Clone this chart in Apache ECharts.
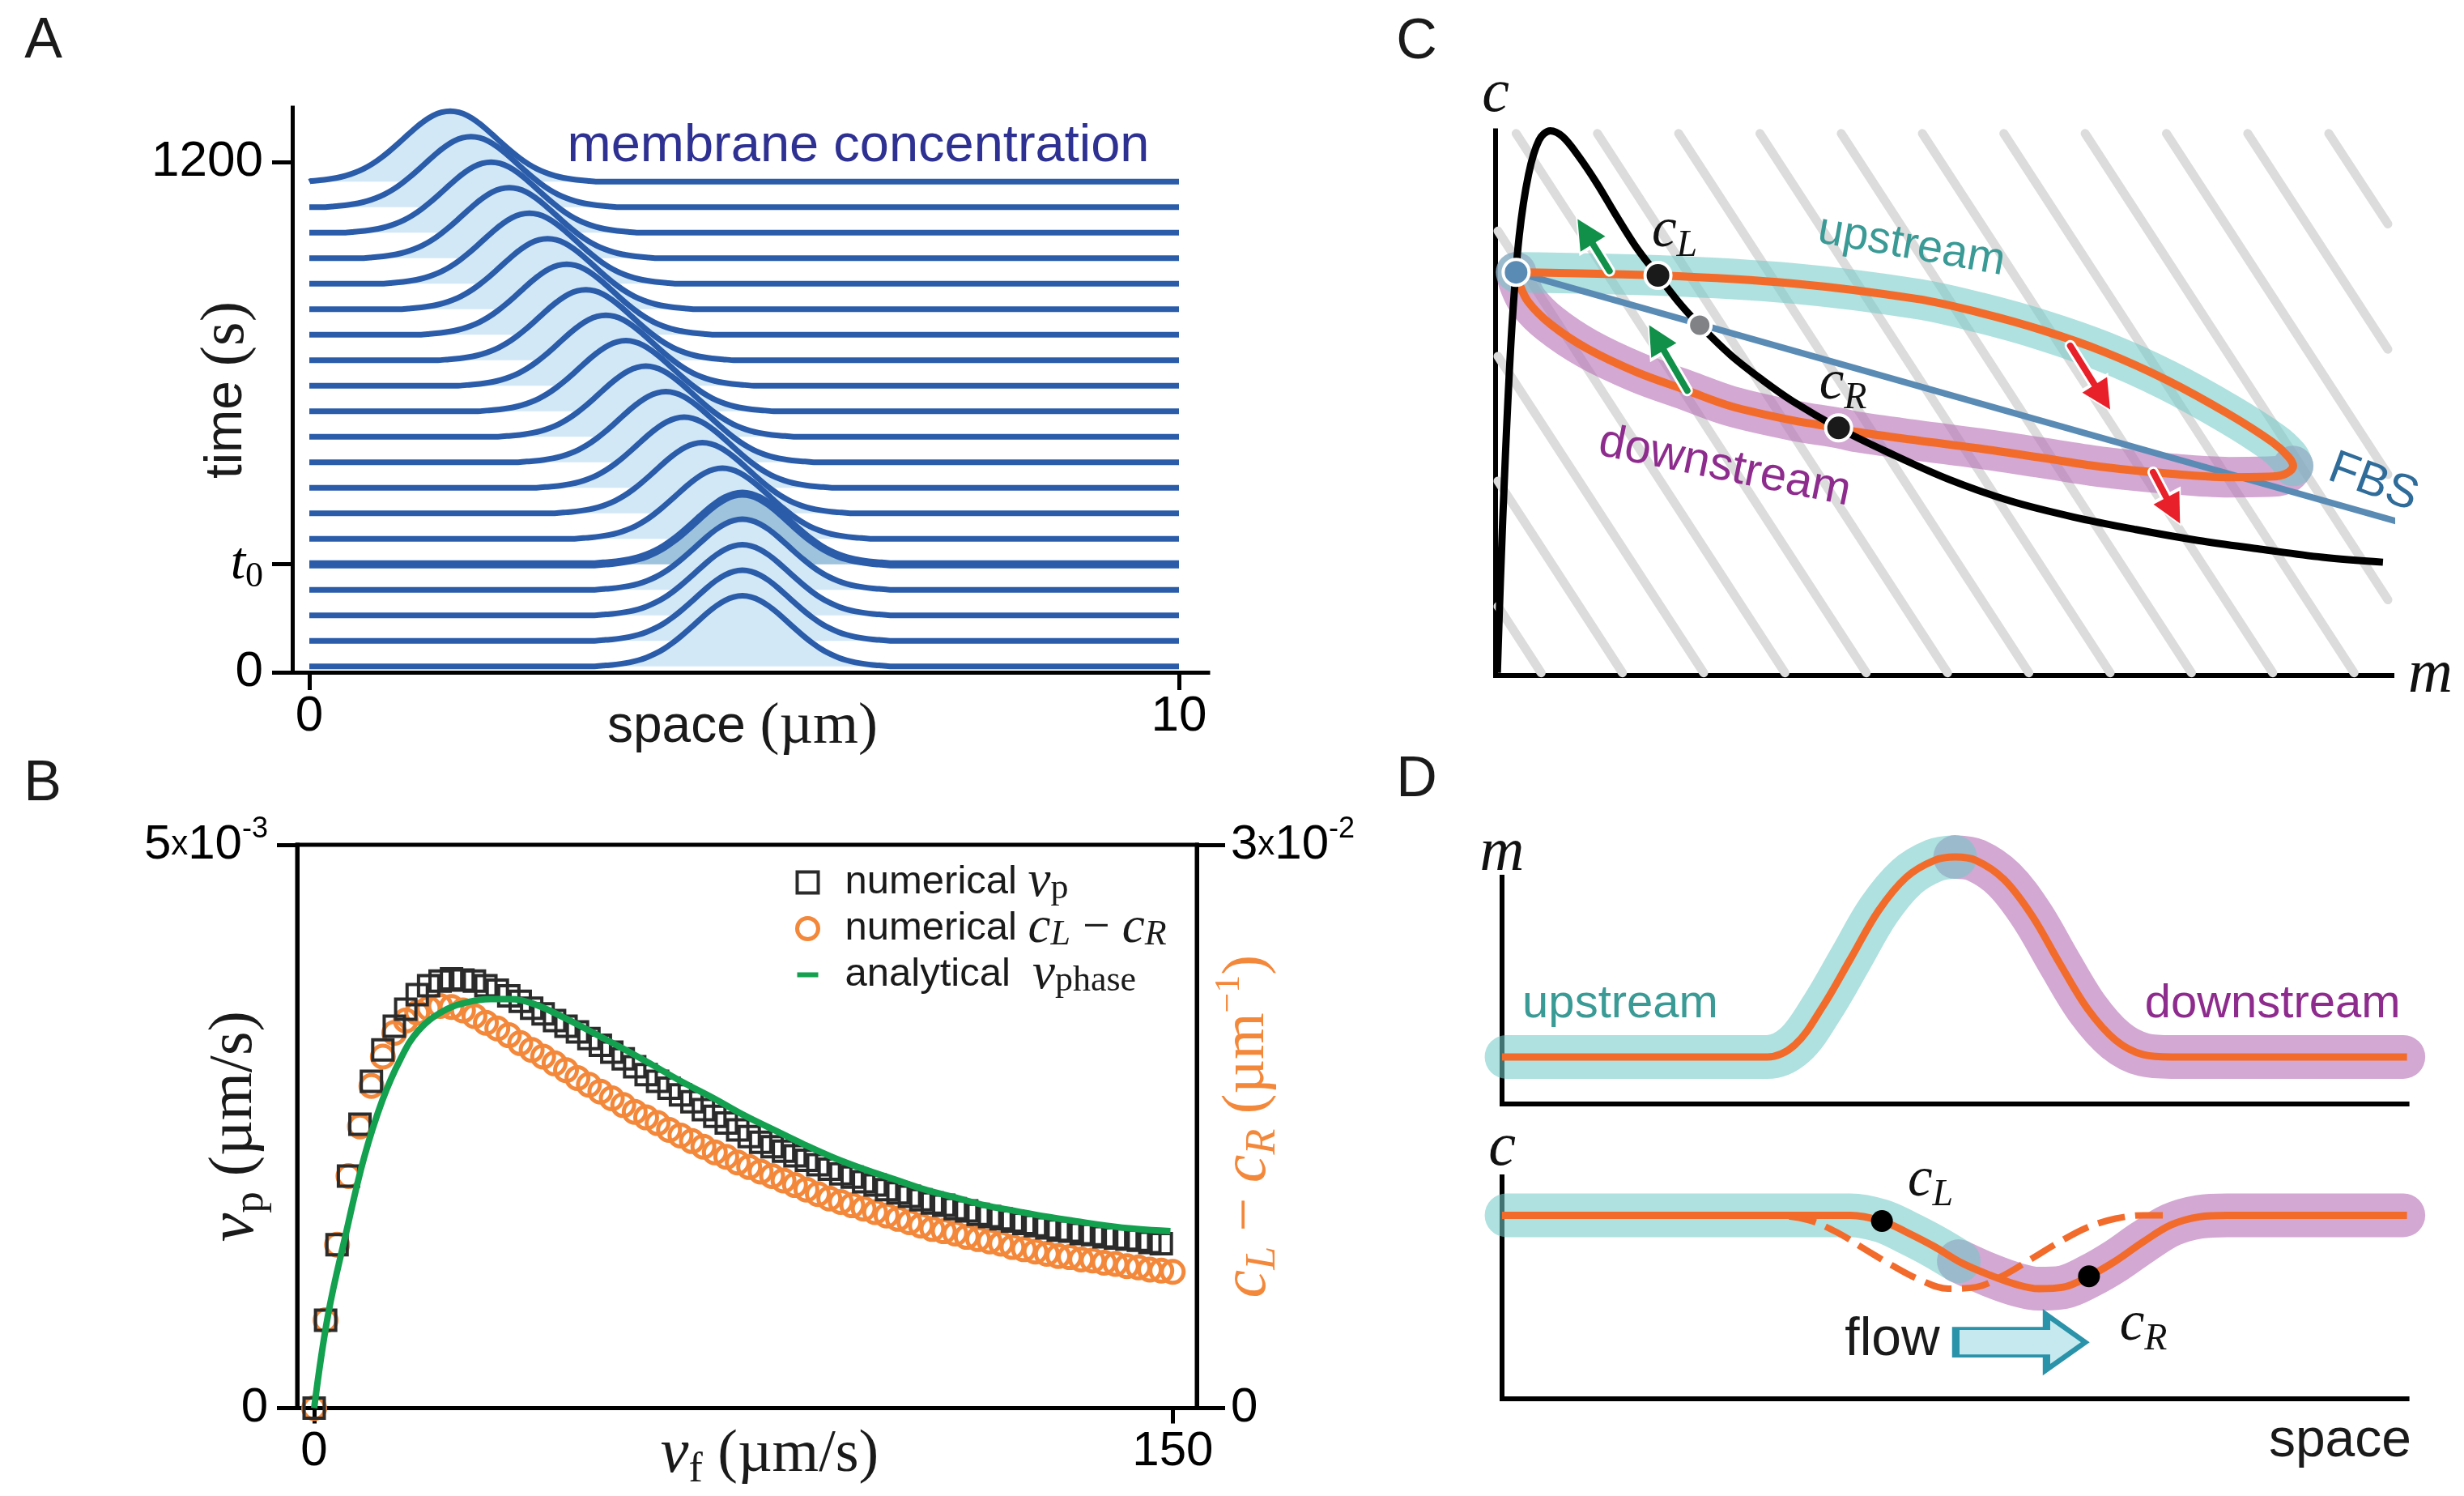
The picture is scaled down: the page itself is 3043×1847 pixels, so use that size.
<!DOCTYPE html>
<html><head><meta charset="utf-8">
<script src="https://cdn.jsdelivr.net/npm/echarts@6/dist/echarts.min.js"></script>
<style>html,body{margin:0;padding:0;background:#fff}#c{width:3043px;height:1847px}</style>
</head><body><div id="c"></div>
<script>
// ================= DATA =================
// ---- Panel A : ridgeline of membrane concentration ----
const A_X_TICKS = [0, 10];
const A_Y_TICKS = [0, 254, 1200];
const A_BASELINES = [14, 74, 134, 194, 254, 314, 374, 434, 494, 554, 614, 674, 734, 794, 854, 914, 974, 1034, 1094, 1154];
const A_PEAKS = [4.98, 4.98, 4.98, 4.98, 4.98, 4.75, 4.52, 4.31, 4.10, 3.87, 3.64, 3.41, 3.18, 2.96, 2.74, 2.53, 2.30, 2.09, 1.86, 1.62];
const A_T0_INDEX = 4;
const A_PROFILE_DX = [-1.7,-1.6,-1.5,-1.4,-1.3,-1.2,-1.1,-1.0,-0.9,-0.8,-0.7,-0.6,-0.5,-0.4,-0.3,-0.2,-0.1,0,0.1,0.2,0.3,0.4,0.5,0.6,0.7,0.8,0.9,1.0,1.1,1.2,1.3,1.4,1.5,1.6,1.7];
const A_PROFILE_H  = [0,0.01,0.02,0.035,0.055,0.085,0.126,0.18,0.249,0.334,0.432,0.539,0.651,0.76,0.857,0.934,0.983,1,0.983,0.934,0.857,0.76,0.651,0.539,0.432,0.334,0.249,0.18,0.126,0.085,0.055,0.035,0.02,0.01,0];
const A_AMPLITUDE = 166;

// ---- Panel B : phase velocity vs flow ----
const B_X_TICKS = [0, 150];
const B_LEFT_TICKS = [0, 5];      // x 1e-3 um/s
const B_RIGHT_TICKS = [0, 3];     // x 1e-2 um^-1
const B_VF_SQ = [0,2,4,6,8,10,12,14,16,18,20,22,24,26,28,30,32,34,36,38,40,42,44,46,48,50,52,54,56,58,60,62,64,66,68,70,72,74,76,78,80,82,84,86,88,90,92,94,96,98,100,102,104,106,108,110,112,114,116,118,120,122,124,126,128,130,132,134,136,138,140,142,144,146,148];
const B_VP = [0.00,0.78,1.45,2.06,2.52,2.90,3.18,3.39,3.54,3.67,3.75,3.79,3.81,3.80,3.79,3.75,3.71,3.66,3.61,3.55,3.50,3.44,3.39,3.34,3.28,3.22,3.16,3.10,3.03,2.96,2.90,2.84,2.78,2.72,2.65,2.59,2.53,2.47,2.41,2.36,2.32,2.28,2.24,2.20,2.16,2.12,2.08,2.05,2.01,1.98,1.94,1.91,1.88,1.85,1.82,1.80,1.77,1.75,1.72,1.70,1.68,1.66,1.64,1.62,1.60,1.58,1.57,1.55,1.54,1.52,1.51,1.50,1.49,1.47,1.46];
const B_VF_CI = [0,2,4,6,8,10,12,14,16,18,20,22,24,26,28,30,32,34,36,38,40,42,44,46,48,50,52,54,56,58,60,62,64,66,68,70,72,74,76,78,80,82,84,86,88,90,92,94,96,98,100,102,104,106,108,110,112,114,116,118,120,122,124,126,128,130,132,134,136,138,140,142,144,146,148,150];
const B_CDIFF = [0,0.468,0.870,1.236,1.500,1.716,1.872,1.998,2.064,2.106,2.130,2.142,2.136,2.118,2.088,2.052,2.022,1.986,1.944,1.908,1.872,1.836,1.800,1.758,1.722,1.686,1.650,1.614,1.578,1.548,1.518,1.482,1.452,1.422,1.392,1.362,1.338,1.308,1.284,1.260,1.236,1.212,1.188,1.164,1.140,1.116,1.098,1.080,1.062,1.044,1.026,1.008,0.990,0.972,0.954,0.942,0.930,0.912,0.900,0.888,0.876,0.858,0.846,0.834,0.822,0.810,0.804,0.792,0.786,0.774,0.768,0.756,0.750,0.738,0.732,0.726];
const B_VF_AN = [0,2.4,5.6,8.7,11.9,15.1,18.2,22.4,26.6,30.8,34,38.2,43.5,48.8,54,59.3,64.5,69.8,75.1,80.3,85.6,90.9,96.1,101.4,106.7,112,117.2,122.5,127.8,133,138.3,143.6,149.6];
const B_VPHASE = [0,0.82,1.56,2.22,2.73,3.10,3.35,3.52,3.60,3.63,3.63,3.59,3.47,3.33,3.19,3.04,2.89,2.75,2.60,2.47,2.34,2.22,2.12,2.03,1.94,1.87,1.80,1.75,1.70,1.66,1.62,1.59,1.57];

// ---- Panel C : phase plane (m, c) ----
const C_NULLCLINE = [[0.2,0.5],[0.55,17.7],[1.10,40.5],[1.80,63.4],[2.63,80.6],[3.68,92.0],[4.85,98.3],[6.11,100.0],[7.50,98.9],[9.23,95.4],[11.32,90.3],[13.40,84.6],[15.83,78.3],[18.27,73.1],[20.70,68.0],[22.78,64.3],[26.25,58.8],[29.73,54.3],[33.20,50.3],[38.41,45.3],[43.62,41.1],[50.57,36.0],[57.51,32.0],[64.46,29.1],[71.41,26.8],[78.36,24.8],[85.30,23.2],[92.25,21.7],[99.0,20.8]];
const C_UPPER = [[2.29,74.03],[18.12,73.46],[33.20,71.98],[47.09,69.12],[54.04,66.60],[60.99,63.40],[67.93,59.40],[74.88,54.25],[81.83,47.96],[86.69,42.82],[88.43,40.19],[88.98,38.47]];
const C_LOWER = [[88.98,38.47],[88.22,37.10],[86.69,36.53],[81.83,36.41],[74.88,37.10],[67.93,38.24],[60.99,39.96],[54.04,41.67],[47.09,43.16],[40.15,44.76],[38.27,45.45],[33.20,46.82],[26.25,49.45],[21.39,52.31],[15.83,55.63],[10.27,59.97],[6.11,64.54],[3.67,68.55],[2.63,71.98],[2.29,74.03]];
const C_FBS = [[2.29,74.03],[101.8,27.7]];
const C_HATCH = [
  [[0.27,12.7],[5.09,0.5]], [[0.27,35.7],[14.16,0.5]], [[0.27,58.6],[23.22,0.5]], [[0.27,81.6],[32.29,0.5]],
  [[2.29,99.5],[41.36,0.5]], [[11.36,99.5],[50.43,0.5]], [[20.42,99.5],[59.50,0.5]], [[29.49,99.5],[68.57,0.5]],
  [[38.56,99.5],[77.64,0.5]], [[47.61,99.5],[86.71,0.5]], [[56.70,99.5],[95.78,0.5]], [[65.77,99.5],[99.55,13.9]],
  [[74.84,99.5],[99.55,36.9]], [[83.91,99.5],[99.55,59.9]], [[92.95,99.5],[99.55,82.9]]
];
const C_ARROWS_GREEN = [[[12.71,74.26],[10.0,81.5]], [[21.39,52.31],[17.95,62.0]]];
const C_ARROWS_RED = [[[64.11,60.54],[67.7,51.1]], [[73.35,37.33],[75.6,30.3]]];
const C_FIXED = [2.29,74.03];
const C_CL = [18.12,73.46];
const C_CR = [38.27,45.45];
const C_MID = [22.78,64.3];

// ---- Panel D : spatial profiles ----
const D_M_CURVE = [[0,20.6],[29.28,20.6],[32.35,25.9],[35.43,42.8],[38.52,64.0],[41.60,85.2],[44.68,100.0],[47.76,107.4],[50.07,108.9],[52.39,107.4],[55.47,99.0],[58.55,83.1],[61.63,61.9],[64.71,41.8],[67.80,28.0],[70.88,21.6],[73.95,20.6],[100,20.6]];
const D_M_UP = [[0.5,20.6],[29.28,20.6],[32.35,25.9],[35.43,42.8],[38.52,64.0],[41.60,85.2],[44.68,100.0],[47.76,107.4],[50.07,108.9]];
const D_M_DOWN = [[50.07,108.9],[52.39,107.4],[55.47,99.0],[58.55,83.1],[61.63,61.9],[64.71,41.8],[67.80,28.0],[70.88,21.6],[73.95,20.6],[99.6,20.6]];
const D_C_SOLID = [[0,82.7],[38.52,82.7],[41.98,80.1],[44.68,75.1],[47.76,68.6],[50.84,61.1],[53.93,55.7],[57.01,51.3],[59.32,49.6],[62.02,50.3],[64.86,55.2],[67.80,62.1],[70.88,70.8],[73.95,78.4],[77.04,82.0],[80.12,82.7],[100,82.7]];
const D_C_UP = [[0.5,82.7],[38.52,82.7],[41.98,80.1],[44.68,75.1],[47.76,68.6],[50.47,62.0]];
const D_C_DOWN = [[50.47,62.0],[53.93,55.7],[57.01,51.3],[59.32,49.6],[62.02,50.3],[64.86,55.2],[67.80,62.1],[70.88,70.8],[73.95,78.4],[77.04,82.0],[80.12,82.7],[99.6,82.7]];
const D_C_DASHED = [[27.5,82.7],[30.82,82.5],[33.89,80.5],[36.98,75.1],[40.06,67.5],[43.14,60.0],[46.22,53.5],[49.30,49.6],[52.39,50.3],[55.47,55.7],[58.55,63.2],[61.63,70.8],[64.71,77.3],[67.80,81.2],[70.88,82.7],[74,82.7]];
const D_CL = [41.98,80.1];
const D_CR = [64.86,55.2];
const D_FLOW = [57.3,25.5];

// ================= STYLE =================
const SANS = '"Liberation Sans", Arial, Helvetica, sans-serif';
const SERIF = '"Liberation Serif", "Times New Roman", serif';
const BLUE_A = '#2a5caa', FILL_A = '#d3e8f7', FILL_T0 = '#9ec3dc';
const ORANGE_B = '#f3883b', GREEN_B = '#13a04f';
const ORANGE = '#f26b2b';
const CYAN = 'rgba(113,202,199,0.57)', PURPLE = 'rgba(182,110,182,0.6)';
const FBS_C = '#5a8bb5';

// rich-text styles: sans text of size `ts`, math (serif) of size `ms`
function R(ts, ms, color, lh) {
  lh = lh || Math.round(Math.max(ts, ms) * 1.22);
  const sub = Math.round(ms * 0.7), sup = Math.round(ms * 0.6);
  const c = (o) => Object.assign(o, {color: color, fill: color});
  return {
    a: c({fontFamily: SANS, fontSize: ts, lineHeight: lh}),
    r: c({fontFamily: SERIF, fontSize: ms, lineHeight: lh}),
    v: c({fontFamily: SERIF, fontStyle: 'italic', fontSize: Math.round(ms * 1.05), lineHeight: lh}),
    s: c({fontFamily: SERIF, fontSize: sub, lineHeight: sub, verticalAlign: 'bottom'}),
    si: c({fontFamily: SERIF, fontStyle: 'italic', fontSize: sub, lineHeight: sub, verticalAlign: 'bottom'}),
    e: c({fontFamily: SERIF, fontSize: sup, lineHeight: sup, verticalAlign: 'top'}),
    n: c({fontFamily: SANS, fontSize: ts, lineHeight: lh}),
    x: c({fontFamily: SANS, fontSize: Math.round(ts * 0.7), lineHeight: lh}),
    ne: c({fontFamily: SANS, fontSize: Math.round(ts * 0.6), lineHeight: Math.round(ts * 0.6), verticalAlign: 'top'})
  };
}

const noSplit = {show: false};
const axLine = (w) => ({show: true, onZero: false, lineStyle: {color: '#000', width: w, cap: 'square'}});

// ================= SERIES =================
const series = [];
// Panel A ridgelines (top first so lower lines are drawn over)
for (let k = A_BASELINES.length - 1; k >= 0; k--) {
  const b = A_BASELINES[k], p = A_PEAKS[k];
  const pts = [[0, b]];
  for (let i = 0; i < A_PROFILE_DX.length; i++) {
    const x = p + A_PROFILE_DX[i];
    if (x > 0.02) pts.push([x, b + A_AMPLITUDE * A_PROFILE_H[i]]);
  }
  pts.push([10, b]);
  const t0 = k === A_T0_INDEX;
  series.push({type: 'line', z: 2, xAxisIndex: 0, yAxisIndex: 0, data: pts, symbol: 'none', smooth: 0.2, silent: true,
    lineStyle: {color: BLUE_A, width: t0 ? 10 : 7, join: 'round', cap: 'butt'},
    areaStyle: {color: t0 ? FILL_T0 : FILL_A, opacity: 1, origin: b}});
}
// Panel B
series.push({type: 'scatter', z: 3, name: 'numerical cLcR', xAxisIndex: 1, yAxisIndex: 2, silent: true,
  data: B_VF_CI.map((x, i) => [x, B_CDIFF[i]]), symbol: 'circle', symbolSize: 27,
  itemStyle: {color: 'rgba(0,0,0,0)', borderColor: ORANGE_B, borderWidth: 5, opacity: 1}});
series.push({type: 'scatter', z: 4, name: 'numerical vp', xAxisIndex: 1, yAxisIndex: 1, silent: true,
  data: B_VF_SQ.map((x, i) => [x, B_VP[i]]), symbol: 'rect', symbolSize: 25,
  itemStyle: {color: 'rgba(0,0,0,0)', borderColor: '#2b2b2b', borderWidth: 4, opacity: 1}});
series.push({type: 'line', z: 5, name: 'analytical vphase', xAxisIndex: 1, yAxisIndex: 1, silent: true,
  data: B_VF_AN.map((x, i) => [x, B_VPHASE[i]]), symbol: 'none', smooth: 0.4,
  lineStyle: {color: GREEN_B, width: 8}, itemStyle: {color: GREEN_B}});
// Panel C
series.push({type: 'lines', z: 2, coordinateSystem: 'cartesian2d', xAxisIndex: 2, yAxisIndex: 3, silent: true,
  data: C_HATCH.map(s => ({coords: s})), symbol: 'none',
  lineStyle: {color: '#dcdcdc', width: 11, opacity: 1, cap: 'round', curveness: 0}});
series.push({type: 'line', z: 3, xAxisIndex: 2, yAxisIndex: 3, data: C_LOWER, symbol: 'none', smooth: 0.35, clip: false, silent: true,
  lineStyle: {color: PURPLE, width: 50, cap: 'round', join: 'round'}});
series.push({type: 'line', z: 4, xAxisIndex: 2, yAxisIndex: 3, data: C_UPPER, symbol: 'none', smooth: 0.35, clip: false, silent: true,
  lineStyle: {color: CYAN, width: 50, cap: 'round', join: 'round'}});
series.push({type: 'line', z: 5, xAxisIndex: 2, yAxisIndex: 3, data: C_FBS, symbol: 'none', clip: false, silent: true,
  lineStyle: {color: FBS_C, width: 8, cap: 'round'}});
series.push({type: 'line', z: 6, xAxisIndex: 2, yAxisIndex: 3, data: C_UPPER.concat(C_LOWER.slice(1)), symbol: 'none', smooth: 0.35, clip: false, silent: true,
  lineStyle: {color: ORANGE, width: 10, join: 'round'}});
series.push({type: 'line', z: 7, xAxisIndex: 2, yAxisIndex: 3, data: C_NULLCLINE, symbol: 'none', smooth: 0.35, clip: false, silent: true,
  lineStyle: {color: '#000', width: 9, join: 'round'}});
[[C_ARROWS_GREEN, '#11904a'], [C_ARROWS_RED, '#e8202a']].forEach(([arr, col]) => {
  series.push({type: 'lines', z: 8, coordinateSystem: 'cartesian2d', xAxisIndex: 2, yAxisIndex: 3, silent: true,
    data: arr.map(s => ({coords: s})), symbol: ['none', 'triangle'], symbolSize: 44,
    lineStyle: {color: '#fff', width: 14, opacity: 1, cap: 'round'}});
  series.push({type: 'lines', z: 9, coordinateSystem: 'cartesian2d', xAxisIndex: 2, yAxisIndex: 3, silent: true,
    data: arr.map(s => ({coords: s})), symbol: ['none', 'triangle'], symbolSize: 36,
    lineStyle: {color: col, width: 8, opacity: 1, cap: 'round'}});
});
series.push({type: 'scatter', z: 10, xAxisIndex: 2, yAxisIndex: 3, silent: true, clip: false, symbolSize: 32,
  data: [{value: C_FIXED, itemStyle: {color: FBS_C}}, {value: C_CL, itemStyle: {color: '#1a1a1a'}},
         {value: C_CR, itemStyle: {color: '#1a1a1a'}}, {value: C_MID, itemStyle: {color: '#808285'}, symbolSize: 28}],
  itemStyle: {borderColor: '#fff', borderWidth: 4, opacity: 1}});
// Panel D upper (m)
series.push({type: 'line', z: 3, xAxisIndex: 3, yAxisIndex: 4, data: D_M_DOWN, symbol: 'none', smooth: 0.35, clip: false, silent: true,
  lineStyle: {color: PURPLE, width: 54, cap: 'round', join: 'round'}});
series.push({type: 'line', z: 4, xAxisIndex: 3, yAxisIndex: 4, data: D_M_UP, symbol: 'none', smooth: 0.35, clip: false, silent: true,
  lineStyle: {color: CYAN, width: 54, cap: 'round', join: 'round'}});
series.push({type: 'line', z: 6, xAxisIndex: 3, yAxisIndex: 4, data: D_M_CURVE, symbol: 'none', smooth: 0.35, clip: false, silent: true,
  lineStyle: {color: ORANGE, width: 9}});
// Panel D lower (c)
series.push({type: 'line', z: 3, xAxisIndex: 4, yAxisIndex: 5, data: D_C_DOWN, symbol: 'none', smooth: 0.35, clip: false, silent: true,
  lineStyle: {color: PURPLE, width: 54, cap: 'round', join: 'round'}});
series.push({type: 'line', z: 4, xAxisIndex: 4, yAxisIndex: 5, data: D_C_UP, symbol: 'none', smooth: 0.35, clip: false, silent: true,
  lineStyle: {color: CYAN, width: 54, cap: 'round', join: 'round'}});
series.push({type: 'line', z: 5, xAxisIndex: 4, yAxisIndex: 5, data: D_C_DASHED, symbol: 'none', smooth: 0.35, clip: false, silent: true,
  lineStyle: {color: ORANGE, width: 8, type: [34, 13]}});
series.push({type: 'line', z: 6, xAxisIndex: 4, yAxisIndex: 5, data: D_C_SOLID, symbol: 'none', smooth: 0.35, clip: false, silent: true,
  lineStyle: {color: ORANGE, width: 9}});
series.push({type: 'scatter', z: 10, xAxisIndex: 4, yAxisIndex: 5, data: [D_CL, D_CR], symbolSize: 27, silent: true, clip: false,
  itemStyle: {color: '#000', opacity: 1}});
series.push({type: 'scatter', z: 10, xAxisIndex: 4, yAxisIndex: 5, data: [D_FLOW], silent: true, clip: false,
  symbol: 'path://M0,17 L112,17 L112,0 L160,34 L112,68 L112,51 L0,51 Z', symbolSize: [160, 68],
  itemStyle: {color: '#c6e9ef', borderColor: '#2a93aa', borderWidth: 6, opacity: 1}});

// ================= TEXT =================
const LEGEND_TEXT = {
  'numerical vp': '{a|numerical }{v|v}{s|p}',
  'numerical cLcR': '{a|numerical }{v|c}{si|L}{r| − }{v|c}{si|R}',
  'analytical vphase': '{a|analytical  }{v|v}{s|phase}'
};
function txt(x, y, text, size, color, opts) {
  return Object.assign({type: 'text', x: x, y: y, z: 100, silent: true,
    style: {text: text, fontSize: size, fontFamily: SANS, fill: color, align: 'center', verticalAlign: 'middle'}}, opts || {});
}
function mtxt(x, y, text, size) {
  return {type: 'text', x: x, y: y, z: 100, silent: true,
    style: {text: text, rich: R(size, size, '#111'), align: 'center', verticalAlign: 'middle'}};
}
const deg = Math.PI / 180;
const graphic = [
  txt(53.6, 52, 'A', 70, '#1a1a1a'), txt(52.5, 969, 'B', 70, '#1a1a1a'),
  txt(1749.5, 53, 'C', 70, '#1a1a1a'), txt(1749.6, 964, 'D', 70, '#1a1a1a'),
  txt(1060, 181.5, 'membrane concentration', 65, '#2e3192'),
  mtxt(2068, 286, '{v|c}{si|L}', 66), mtxt(2276, 474, '{v|c}{si|R}', 66),
  txt(2360.6, 303.8, 'upstream', 56, '#3a9a95', {rotation: -10 * deg}),
  txt(2130, 576.8, 'downstream', 58, '#8e2c8e', {rotation: -11.5 * deg}),
  txt(2931, 596, 'FBS', 58, '#2f6c9a', {rotation: -20.4 * deg}),
  txt(2001, 1240, 'upstream', 58, '#3a9a95'),
  txt(2806.6, 1240, 'downstream', 58, '#8e2c8e'),
  mtxt(2384, 1458, '{v|c}{si|L}', 66), mtxt(2647, 1636, '{v|c}{si|R}', 66),
  txt(2337, 1655, 'flow', 66, '#1a1a1a'),
  {type: 'text', x: 2978, y: 1780, z: 100, silent: true, style: {text: 'space', fontSize: 66, fontFamily: SANS, fill: '#1a1a1a', align: 'right', verticalAlign: 'middle'}}
];

const tickLbl = (size) => ({fontSize: size, fontFamily: SANS, color: '#000'});
const varName = {fontFamily: SERIF, fontStyle: 'italic', fontSize: 76, lineHeight: 76, color: '#111'};
const legendRich = R(49, 60, '#1a1a1a', 60);
legendRich.s.fontSize = 44; legendRich.s.lineHeight = 40;
legendRich.si.fontSize = 44; legendRich.si.lineHeight = 40;

const option = {
  animation: false,
  backgroundColor: '#ffffff',
  grid: [
    {left: 361, top: 133, width: 1131, height: 697, show: false, outerBoundsMode: 'none'},
    {left: 367, top: 1043, width: 1111, height: 695.5, show: true, borderColor: '#000', borderWidth: 5, backgroundColor: 'rgba(0,0,0,0)', outerBoundsMode: 'none'},
    {left: 1847, top: 161.5, width: 1107, height: 672.5, show: false, outerBoundsMode: 'none'},
    {left: 1855, top: 1083, width: 1117.6, height: 279.5, show: false, outerBoundsMode: 'none'},
    {left: 1855, top: 1453, width: 1117.6, height: 274, show: false, outerBoundsMode: 'none'}
  ],
  xAxis: [
    {gridIndex: 0, type: 'value', min: -0.1955, max: 10.335, axisLine: axLine(5), splitLine: noSplit,
      axisTick: {show: true, customValues: A_X_TICKS, length: 22, lineStyle: {color: '#000', width: 5}},
      axisLabel: Object.assign({show: true, customValues: A_X_TICKS, margin: 24}, tickLbl(62)),
      name: '{a|space }{r|(µm)}', nameLocation: 'middle', nameGap: 24, nameMoveOverlap: false,
      nameTextStyle: {rich: R(64, 72, '#1a1a1a'), padding: [0, 19, 0, 0]}},
    {gridIndex: 1, type: 'value', min: -2.97, max: 154.2, axisLine: axLine(5), splitLine: noSplit,
      axisTick: {show: true, customValues: B_X_TICKS, length: 19, lineStyle: {color: '#000', width: 5}},
      axisLabel: Object.assign({show: true, customValues: B_X_TICKS, margin: 24}, tickLbl(60)),
      name: '{v|v}{s|f}{r| (µm/s)}', nameLocation: 'middle', nameGap: 13, nameMoveOverlap: false,
      nameTextStyle: {rich: R(74, 74, '#1a1a1a'), padding: [0, 0, 0, 56]}},
    {gridIndex: 2, type: 'value', min: 0, max: 100, axisLine: axLine(6), splitLine: noSplit, axisTick: {show: false}, axisLabel: {show: false},
      name: 'm', nameLocation: 'end', nameGap: 20, nameMoveOverlap: false, nameTextStyle: varName},
    {gridIndex: 3, type: 'value', min: 0, max: 100, axisLine: axLine(6), splitLine: noSplit, axisTick: {show: false}, axisLabel: {show: false}},
    {gridIndex: 4, type: 'value', min: 0, max: 100, axisLine: axLine(6), splitLine: noSplit, axisTick: {show: false}, axisLabel: {show: false}}
  ],
  yAxis: [
    {gridIndex: 0, type: 'value', min: 0, max: 1328, axisLine: axLine(5), splitLine: noSplit,
      axisTick: {show: true, customValues: A_Y_TICKS, length: 25, lineStyle: {color: '#000', width: 5}},
      axisLabel: {show: true, customValues: A_Y_TICKS, margin: 36,
        formatter: v => v === 254 ? '{t|t}{ts|0}' : '{n|' + v + '}',
        rich: {n: {fontFamily: SANS, fontSize: 62, lineHeight: 76, color: '#000'},
               t: {fontFamily: SERIF, fontStyle: 'italic', fontSize: 66, lineHeight: 76, color: '#000'},
               ts: {fontFamily: SERIF, fontSize: 44, lineHeight: 44, verticalAlign: 'bottom', color: '#000'}}},
      name: '{a|time }{r|(s)}', nameLocation: 'middle', nameGap: 34, nameMoveOverlap: false,
      nameTextStyle: {rich: R(64, 76, '#1a1a1a')}},
    {gridIndex: 1, type: 'value', position: 'left', min: 0, max: 5, axisLine: axLine(5), splitLine: noSplit,
      axisTick: {show: true, customValues: B_LEFT_TICKS, length: 25, lineStyle: {color: '#000', width: 5}},
      axisLabel: {show: true, customValues: B_LEFT_TICKS, margin: 36,
        formatter: v => v === 5 ? '{n|5}{x|x}{n|10}{ne|-3}' : '{n|0}', rich: R(60, 60, '#000')},
      name: '{v|v}{s|p}{r| (µm/s)}', nameLocation: 'middle', nameGap: 30, nameMoveOverlap: false,
      nameTextStyle: {rich: R(76, 76, '#1a1a1a')}},
    {gridIndex: 1, type: 'value', position: 'right', min: 0, max: 3, axisLine: axLine(5), splitLine: noSplit,
      axisTick: {show: true, customValues: B_RIGHT_TICKS, length: 35, lineStyle: {color: '#000', width: 5}},
      axisLabel: {show: true, customValues: B_RIGHT_TICKS, margin: 42,
        formatter: v => v === 3 ? '{n|3}{x|x}{n|10}{ne|-2}' : '{n|0}', rich: R(60, 60, '#000')},
      name: '{v|c}{si|L}{r| − }{v|c}{si|R}{r| (µm}{e|−1}{r|)}', nameLocation: 'middle', nameGap: 18, nameMoveOverlap: false,
      nameTextStyle: {rich: R(74, 74, ORANGE_B)}},
    {gridIndex: 2, type: 'value', min: 0, max: 100, axisLine: axLine(6), splitLine: noSplit, axisTick: {show: false}, axisLabel: {show: false},
      name: 'c', nameLocation: 'end', nameGap: 6, nameMoveOverlap: false, nameTextStyle: varName},
    {gridIndex: 3, type: 'value', min: 0, max: 100, axisLine: axLine(6), splitLine: noSplit, axisTick: {show: false}, axisLabel: {show: false},
      name: 'm', nameLocation: 'end', nameGap: -9, nameMoveOverlap: false, nameTextStyle: varName},
    {gridIndex: 4, type: 'value', min: 0, max: 100, axisLine: axLine(6), splitLine: noSplit, axisTick: {show: false}, axisLabel: {show: false},
      name: 'c', nameLocation: 'end', nameGap: -3, nameMoveOverlap: false, nameTextStyle: varName}
  ],
  legend: {
    orient: 'vertical', left: 982, top: 1058, padding: 0, itemWidth: 26, itemHeight: 26, itemGap: -6, selectedMode: false,
    data: [
      {name: 'numerical vp', icon: 'rect', itemStyle: {color: 'rgba(0,0,0,0)', borderColor: '#2b2b2b', borderWidth: 4}},
      {name: 'numerical cLcR', icon: 'circle', itemStyle: {color: 'rgba(0,0,0,0)', borderColor: ORANGE_B, borderWidth: 5}},
      {name: 'analytical vphase', icon: 'path://M0,0H30V7H0Z', itemStyle: {color: GREEN_B, borderWidth: 0}, lineStyle: {color: GREEN_B, width: 7}}
    ],
    formatter: n => LEGEND_TEXT[n],
    textStyle: {padding: [0, 0, 0, 28], rich: legendRich}
  },
  graphic: graphic,
  series: series
};

const chart = echarts.init(document.getElementById('c'), null, {renderer: 'canvas', width: 3043, height: 1847});
chart.setOption(option);
</script>
</body></html>
